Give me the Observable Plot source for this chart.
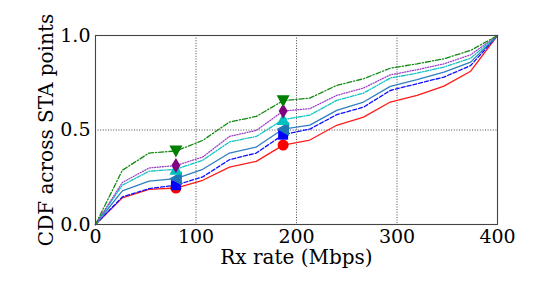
<!DOCTYPE html>
<html><head><meta charset="utf-8">
<script src="https://cdn.jsdelivr.net/npm/d3@7"></script>
<script src="https://cdn.jsdelivr.net/npm/@observablehq/plot@0.6"></script>
<style>
html,body{margin:0;padding:0;background:#fff;}
#chart{width:540px;height:304px;}
</style>
</head><body><div id="chart"></div>
<script>
const xs = [0, 26.7, 53.3, 80, 106.7, 133.3, 160, 186.7, 213.3, 240, 266.7, 293.3, 320, 346.7, 373.3, 400];
const redVals    = [0, 0.141, 0.186, 0.193, 0.234, 0.304, 0.334, 0.420, 0.447, 0.525, 0.568, 0.648, 0.683, 0.732, 0.811, 1.0];
const blueVals   = [0, 0.146, 0.190, 0.208, 0.252, 0.343, 0.378, 0.475, 0.505, 0.581, 0.621, 0.709, 0.745, 0.780, 0.841, 1.0];
const steelVals  = [0, 0.178, 0.230, 0.243, 0.292, 0.378, 0.410, 0.505, 0.526, 0.604, 0.648, 0.731, 0.766, 0.806, 0.859, 1.0];
const cyanVals   = [0, 0.208, 0.282, 0.292, 0.340, 0.437, 0.466, 0.555, 0.579, 0.657, 0.695, 0.775, 0.801, 0.833, 0.880, 1.0];
const purpleVals = [0, 0.222, 0.299, 0.312, 0.357, 0.466, 0.498, 0.600, 0.613, 0.683, 0.722, 0.792, 0.819, 0.850, 0.898, 1.0];
const greenVals  = [0, 0.287, 0.378, 0.389, 0.445, 0.542, 0.572, 0.655, 0.669, 0.736, 0.771, 0.827, 0.850, 0.877, 0.921, 1.0];
const markerIdx = [3, 7];
const xTicks = [0, 100, 200, 300, 400];
const yTicks = [0, 0.5, 1.0];
const yTickLabels = ["0.0", "0.5", "1.0"];
const xLabel = "Rx rate (Mbps)";
const yLabel = "CDF across STA points";

function poly(pts) {
  return { draw(ctx) { ctx.moveTo(pts[0][0], pts[0][1]); for (let i = 1; i < pts.length; i++) ctx.lineTo(pts[i][0], pts[i][1]); ctx.closePath(); } };
}
const symCircle = { draw(ctx) { ctx.moveTo(5.5, 0); ctx.arc(0, 0, 5.5, 0, 2 * Math.PI); } };
const symSquare = poly([[-5, -5], [5, -5], [5, 5], [-5, 5]]);
const symLeft = poly([[-6.5, 0], [6, -7], [6, 7]]);
const symUp = poly([[0, -6.5], [6.5, 5.5], [-6.5, 5.5]]);
const symThin = poly([[0, -7.5], [4.5, 0], [0, 7.5], [-4.5, 0]]);
const symDown = poly([[0, 6.5], [6.5, -5.5], [-6.5, -5.5]]);

const series = [
  { vals: redVals, stroke: "#ff1a1a", dash: null, fill: "#ff0000", sym: symCircle },
  { vals: blueVals, stroke: "#1010ff", dash: "4,2", fill: "#0000ff", sym: symSquare },
  { vals: steelVals, stroke: "#2f7fc0", dash: null, fill: "#1f77b4", sym: symLeft },
  { vals: cyanVals, stroke: "#10c4c4", dash: "4,1.5,1,1.5", fill: "#00bfbf", sym: symUp },
  { vals: purpleVals, stroke: "#a040c8", dash: "1,1.6", fill: "#800080", sym: symThin },
  { vals: greenVals, stroke: "#108a10", dash: "5,2,1.2,2", fill: "#007f00", sym: symDown }
];

const font = "DejaVu Serif, serif";
const marks = [
  Plot.ruleX([100, 200, 300], { stroke: "#000", strokeWidth: 0.9, strokeDasharray: "1,1.6", strokeOpacity: 0.8 }),
  Plot.ruleY([0.5], { stroke: "#000", strokeWidth: 0.9, strokeDasharray: "1,1.6", strokeOpacity: 0.8 })
];
for (const s of series) {
  marks.push(Plot.line(xs, { x: (d) => d, y: (d, i) => s.vals[i], stroke: s.stroke, strokeWidth: 1.3, strokeDasharray: s.dash }));
}
for (const s of series) {
  marks.push(Plot.dot(markerIdx, { x: (i) => xs[i], y: (i) => s.vals[i], symbol: s.sym, r: 5, fill: s.fill, stroke: "none" }));
}
marks.push(Plot.frame({ stroke: "#444", strokeWidth: 1.1 }));
marks.push(Plot.text(xTicks, { x: (d) => d, frameAnchor: "bottom", dy: 5, lineAnchor: "top", text: (d) => String(d), fontSize: 19, fontFamily: font, fill: "#000" }));
marks.push(Plot.text(yTicks, { y: (d) => d, frameAnchor: "left", dx: -5, textAnchor: "end", text: (d, i) => yTickLabels[i], fontSize: 19, fontFamily: font, fill: "#000" }));
marks.push(Plot.text([xLabel], { frameAnchor: "bottom", dy: 33, lineAnchor: "middle", text: (d) => d, fontSize: 20, fontFamily: font, fill: "#000" }));
marks.push(Plot.text([yLabel], { frameAnchor: "left", dx: -49, rotate: -90, textAnchor: "middle", text: (d) => d, fontSize: 20, fontFamily: font, fill: "#000" }));

const chart = Plot.plot({
  width: 540, height: 304,
  marginLeft: 95, marginRight: 43, marginTop: 35, marginBottom: 80,
  x: { domain: [0, 400], axis: null },
  y: { domain: [0, 1], axis: null },
  style: { background: "#fff", overflow: "visible" },
  marks
});
document.getElementById("chart").appendChild(chart);
</script>
</body></html>
